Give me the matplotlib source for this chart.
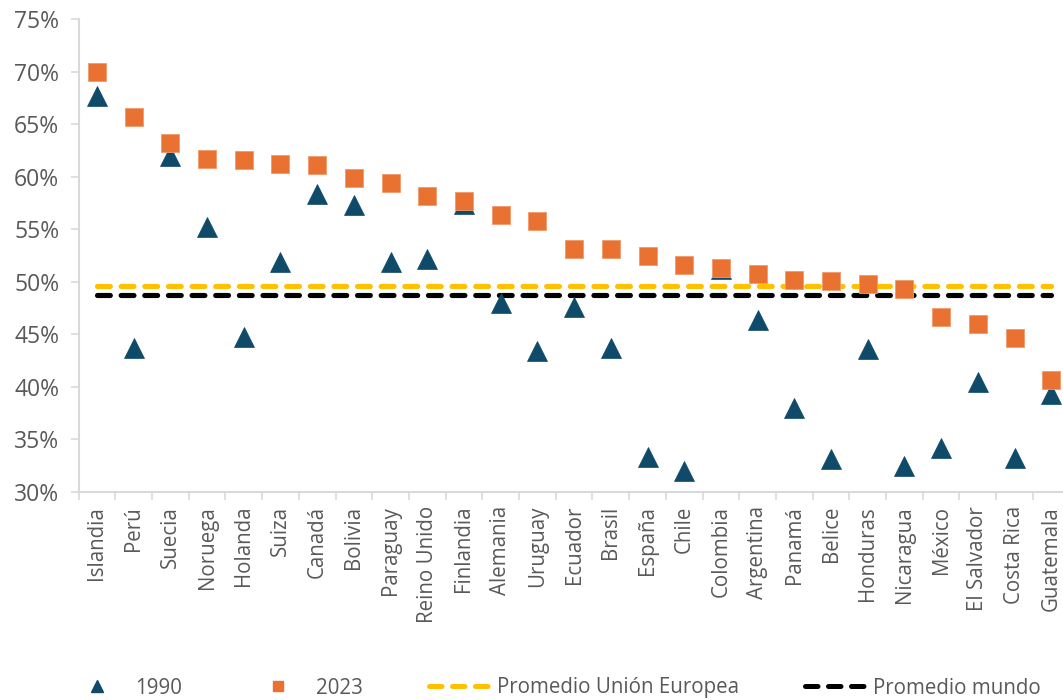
import matplotlib
matplotlib.use("Agg")
import matplotlib.pyplot as plt
from matplotlib.lines import Line2D
from matplotlib.ticker import FixedLocator, FuncFormatter

plt.rcParams["font.family"] = ["Open Sans", "DejaVu Sans"]

countries = ["Islandia", "Perú", "Suecia", "Noruega", "Holanda", "Suiza", "Canadá",
             "Bolivia", "Paraguay", "Reino Unido", "Finlandia", "Alemania", "Uruguay",
             "Ecuador", "Brasil", "España", "Chile", "Colombia", "Argentina", "Panamá",
             "Belice", "Honduras", "Nicaragua", "México", "El Salvador", "Costa Rica",
             "Guatemala"]

# Participation rates (%)
values_1990 = [67.7, 43.7, 62.0, 55.2, 44.8, 51.9, 58.4, 57.3, 51.9, 52.2, 57.4, 48.0,
               43.4, 47.6, 43.7, 33.3, 32.0, 51.2, 46.4, 38.0, 33.1, 43.6, 32.5, 34.2,
               40.5, 33.2, 39.3]
values_2023 = [70.0, 65.7, 63.2, 61.7, 61.6, 61.2, 61.1, 59.9, 59.4, 58.2, 57.7, 56.4,
               55.8, 53.1, 53.1, 52.5, 51.6, 51.3, 50.8, 50.2, 50.1, 49.8, 49.3, 46.7,
               46.0, 44.7, 40.7]
avg_eu = 49.6
avg_world = 48.8

y_ticks = [30, 35, 40, 45, 50, 55, 60, 65, 70, 75]

NAVY = "#0F4A68"
ORANGE = "#E97132"
YELLOW = "#FFC000"
GRAY_TXT = "#595959"
GRAY_AX = "#D9D9D9"

fig = plt.figure(figsize=(10.63, 7.0), dpi=100)
ax = fig.add_axes([78.6 / 1063, 208 / 700, 991 / 1063, (680.7 - 208) / 700])

x = list(range(len(countries)))

dash_kw = dict(lw=3.7, dashes=(2.5, 2.1), dash_capstyle="round", zorder=2)
ax.plot([x[0], x[-1]], [avg_eu, avg_eu], color=YELLOW, **dash_kw)
ax.plot([x[0], x[-1]], [avg_world, avg_world], color="black", **dash_kw)

ax.plot(x, values_1990, ls="none", marker="^", ms=14.5, color=NAVY,
        mec=NAVY, mew=0.5, zorder=3)
ax.plot(x, values_2023, ls="none", marker="s", ms=13.5, color=ORANGE,
        mec="#F09A6B", mew=0.6, zorder=4)

ax.set_xlim(-0.5, len(countries) - 0.5)
ax.set_ylim(30, 75)

ax.set_yticks(y_ticks)
ax.yaxis.set_major_formatter(FuncFormatter(lambda v, _: f"{v:.0f}%"))
ax.tick_params(axis="y", direction="out", length=6, width=1.2, color=GRAY_AX,
               labelsize=16.5, labelcolor=GRAY_TXT, pad=8)

ax.set_xticks(x)
ax.set_xticklabels(countries, rotation=90)
ax.tick_params(axis="x", which="major", length=0, labelsize=14.8,
               labelcolor=GRAY_TXT, pad=10)
ax.xaxis.set_minor_locator(FixedLocator([i - 0.5 for i in range(len(countries) + 1)]))
ax.tick_params(axis="x", which="minor", direction="out", length=6, width=1.2,
               color=GRAY_AX)

for side in ("top", "right"):
    ax.spines[side].set_visible(False)
for side in ("left", "bottom"):
    ax.spines[side].set_color(GRAY_AX)
    ax.spines[side].set_linewidth(1.5)

handles = [
    Line2D([], [], ls="none", marker="^", ms=8, color=NAVY),
    Line2D([], [], ls="none", marker="s", ms=7, color=ORANGE),
    Line2D([], [], color=YELLOW, lw=3.6, dashes=(2.5, 2.1), dash_capstyle="round"),
    Line2D([], [], color="black", lw=3.6, dashes=(2.5, 2.1), dash_capstyle="round"),
]
labels = ["1990", "2023", "Promedio Unión Europea", "Promedio mundo"]
leg = fig.legend(handles, labels, loc="center left", bbox_to_anchor=(67 / 1063, 12 / 700),
                 ncol=4, frameon=False, fontsize=14.8, handlelength=2.9,
                 handletextpad=0.42, columnspacing=3.2, borderpad=0, borderaxespad=0)
for t in leg.get_texts():
    t.set_color(GRAY_TXT)

fig.savefig("out.png", dpi=100)
